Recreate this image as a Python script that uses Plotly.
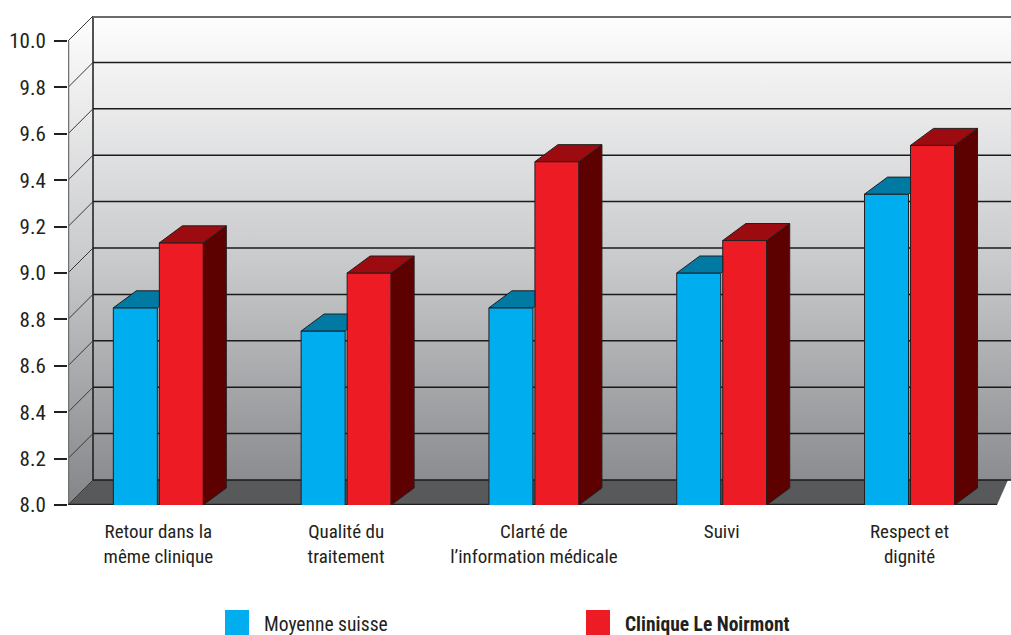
import plotly.graph_objects as go

# ---------------- data ----------------
categories = [
    "Retour dans la<br>même clinique",
    "Qualité du<br>traitement",
    "Clarté de<br>l’information médicale",
    "Suivi",
    "Respect et<br>dignité",
]
moyenne_suisse = [8.85, 8.75, 8.85, 9.00, 9.34]
clinique_noirmont = [9.13, 9.00, 9.48, 9.14, 9.55]
series_names = ["Moyenne suisse", "Clinique Le Noirmont"]
y_ticks = [8.0, 8.2, 8.4, 8.6, 8.8, 9.0, 9.2, 9.4, 9.6, 9.8, 10.0]
y_tick_labels = ["8.0", "8.2", "8.4", "8.6", "8.8", "9.0", "9.2", "9.4", "9.6", "9.8", "10.0"]

# ---------------- geometry / style ----------------
W, H = 1011, 635
ML, MR, MT, MB = 68, 0, 16, 130
PLOT_W = W - ML - MR
PLOT_H = H - MT - MB
PX_PER_CAT = 187.8
Y_LOW, Y_TOP = 8.0, 10.0
PX_PER_UNIT = 232.0
WALL_DX = 25 / PX_PER_CAT
WALL_DY = 25 / PX_PER_UNIT
X_MIN = -0.481
X_MAX = X_MIN + PLOT_W / PX_PER_CAT
Y_MAX = Y_LOW + PLOT_H / PX_PER_UNIT
BAR_W = 44 / PX_PER_CAT
BLUE_OFF = -45 / PX_PER_CAT
RED_OFF = 1 / PX_PER_CAT
BAR_DX = 23 / PX_PER_CAT
BAR_DY = 17 / PX_PER_UNIT
FLOOR_FRONT_END = X_MIN + 929 / PX_PER_CAT
FLOOR_BACK_END = X_MIN + 940 / PX_PER_CAT

BLUE, BLUE_TOP = "#00aeef", "#0079a3"
RED, RED_TOP, RED_SIDE = "#ed1c24", "#9b0b10", "#5c0000"
EDGE = "#231f20"
FLOOR = "#58595b"
FONT = "Liberation Sans Narrow, Arial Narrow, Roboto Condensed, Liberation Sans, sans-serif"
GRAD = [[0, "#838588"], [0.5, "#c9cacc"], [1, "#fefefe"]]

idx = list(range(len(categories)))
xb0 = X_MIN + WALL_DX

fig = go.Figure()

# ---- walls (main subplot) ----
fig.add_trace(go.Scatter(
    x=[xb0, X_MAX + 0.1, X_MAX + 0.1, xb0, xb0],
    y=[Y_LOW + WALL_DY, Y_LOW + WALL_DY, Y_TOP + WALL_DY, Y_TOP + WALL_DY, Y_LOW + WALL_DY],
    mode="lines", fill="toself", line=dict(width=0),
    fillgradient=dict(type="vertical", colorscale=GRAD, start=Y_LOW, stop=Y_TOP + WALL_DY),
    hoverinfo="skip", showlegend=False))
fig.add_trace(go.Scatter(
    x=[X_MIN, xb0, xb0, X_MIN, X_MIN],
    y=[Y_LOW, Y_LOW + WALL_DY, Y_TOP + WALL_DY, Y_TOP, Y_LOW],
    mode="lines", fill="toself", line=dict(width=0),
    fillgradient=dict(type="vertical", colorscale=GRAD, start=Y_LOW, stop=Y_TOP + WALL_DY),
    hoverinfo="skip", showlegend=False))
# floor
fig.add_trace(go.Scatter(
    x=[X_MIN, xb0, FLOOR_BACK_END, FLOOR_FRONT_END, X_MIN],
    y=[Y_LOW, Y_LOW + WALL_DY, Y_LOW + WALL_DY, Y_LOW, Y_LOW],
    mode="lines", fill="toself", fillcolor=FLOOR, line=dict(width=0),
    hoverinfo="skip", showlegend=False))
# back gridlines
gx, gy = [], []
for v in y_ticks[:-1]:
    gx += [xb0, X_MAX + 0.1, None]
    gy += [v + WALL_DY, v + WALL_DY, None]
gx += [xb0, xb0, None]
gy += [Y_LOW + WALL_DY, Y_TOP + WALL_DY, None]
fig.add_trace(go.Scatter(x=gx, y=gy, mode="lines", line=dict(color="#1a1a1a", width=1.5),
                         hoverinfo="skip", showlegend=False))
fig.add_trace(go.Scatter(x=[xb0, X_MAX + 0.1], y=[Y_TOP + WALL_DY] * 2, mode="lines",
                         line=dict(color="#6b6b6b", width=4), hoverinfo="skip", showlegend=False))
# side diagonals
dx_, dy_ = [], []
for v in y_ticks:
    dx_ += [X_MIN, xb0, None]
    dy_ += [v, v + WALL_DY, None]
fig.add_trace(go.Scatter(x=dx_, y=dy_, mode="lines", line=dict(color="#3a3a3a", width=1),
                         hoverinfo="skip", showlegend=False))
# front axis line and floor front edge
fig.add_trace(go.Scatter(x=[X_MIN, X_MIN], y=[Y_LOW, Y_TOP], mode="lines",
                         line=dict(color="#707070", width=2.5), hoverinfo="skip", showlegend=False))
fig.add_trace(go.Scatter(x=[X_MIN, FLOOR_FRONT_END], y=[Y_LOW, Y_LOW], mode="lines",
                         line=dict(color=EDGE, width=2.5), hoverinfo="skip", showlegend=False))

# ---- bars (overlay subplot) ----
fig.add_trace(go.Bar(x=idx, y=moyenne_suisse, name=series_names[0], offset=BLUE_OFF, width=BAR_W,
                     marker=dict(color=BLUE, line=dict(color=EDGE, width=1)),
                     xaxis="x2", yaxis="y2", showlegend=False))
fig.add_trace(go.Bar(x=idx, y=clinique_noirmont, name=series_names[1], offset=RED_OFF, width=BAR_W,
                     marker=dict(color=RED, line=dict(color=EDGE, width=1)),
                     xaxis="x2", yaxis="y2", showlegend=False))

# blue top faces (visible part left of the red bar)
bx, by = [], []
for i, v in zip(idx, moyenne_suisse):
    x0 = i + BLUE_OFF
    x1 = x0 + BAR_W
    xr = i + RED_OFF
    t = (xr - x1) / BAR_DX
    bx += [x0, x1, xr, xr, x0 + BAR_DX, x0, None]
    by += [v, v, v + t * BAR_DY, v + BAR_DY, v + BAR_DY, v, None]
fig.add_trace(go.Scatter(x=bx, y=by, mode="lines", fill="toself", fillcolor=BLUE_TOP,
                         line=dict(color=EDGE, width=1), xaxis="x2", yaxis="y2",
                         hoverinfo="skip", showlegend=False))
# red top and side faces
rx, ry = [], []
sx, sy = [], []
for i, v in zip(idx, clinique_noirmont):
    x0 = i + RED_OFF
    x1 = x0 + BAR_W
    rx += [x0, x1, x1 + BAR_DX, x0 + BAR_DX, x0, None]
    ry += [v, v, v + BAR_DY, v + BAR_DY, v, None]
    sx += [x1, x1, x1 + BAR_DX, x1 + BAR_DX, x1, None]
    sy += [Y_LOW, v, v + BAR_DY, Y_LOW + BAR_DY, Y_LOW, None]
fig.add_trace(go.Scatter(x=sx, y=sy, mode="lines", fill="toself", fillcolor=RED_SIDE,
                         line=dict(color=EDGE, width=1), xaxis="x2", yaxis="y2",
                         hoverinfo="skip", showlegend=False))
fig.add_trace(go.Scatter(x=rx, y=ry, mode="lines", fill="toself", fillcolor=RED_TOP,
                         line=dict(color=EDGE, width=1), xaxis="x2", yaxis="y2",
                         hoverinfo="skip", showlegend=False))

# ---- legend (custom) ----
def px_x(p):
    return (p - ML) / PLOT_W

def px_y(p):
    return (H - MB - p) / PLOT_H

legend_items = [(series_names[0], BLUE, 225, 262, False), (series_names[1], RED, 586, 623, True)]
for name, col, sq_x, tx_x, bold in legend_items:
    fig.add_shape(type="rect", xref="paper", yref="paper",
                  x0=px_x(sq_x), x1=px_x(sq_x + 24), y0=px_y(610), y1=px_y(636),
                  fillcolor=col, line=dict(width=0))
    fig.add_annotation(xref="paper", yref="paper", x=px_x(tx_x), y=px_y(624),
                       xanchor="left", yanchor="middle", showarrow=False,
                       text=f"<b>{name}</b>" if bold else name,
                       font=dict(family=FONT, size=19.5, color=EDGE))

LABEL_FONT = dict(family=FONT, size=19, color=EDGE)
fig.update_layout(
    width=W, height=H,
    margin=dict(l=ML, r=MR, t=MT, b=MB, pad=0),
    paper_bgcolor="white", plot_bgcolor="white",
    font=dict(family=FONT, size=19, color=EDGE),
    barmode="overlay",
    xaxis=dict(range=[X_MIN, X_MAX], tickvals=idx, ticktext=categories, showgrid=False,
               zeroline=False, showline=False, ticks="", ticklabelstandoff=13,
               tickfont=LABEL_FONT),
    yaxis=dict(range=[Y_LOW, Y_MAX], tickvals=y_ticks, ticktext=y_tick_labels, showgrid=False,
               zeroline=False, showline=False, ticks="outside", ticklen=13, tickwidth=1.5,
               tickcolor=EDGE, ticklabelstandoff=4,
               tickfont=dict(family=FONT, size=21, color=EDGE)),
    xaxis2=dict(range=[X_MIN, X_MAX], overlaying="x", visible=False),
    yaxis2=dict(range=[Y_LOW, Y_MAX], overlaying="y", visible=False),
)

fig.write_html("out.html")
